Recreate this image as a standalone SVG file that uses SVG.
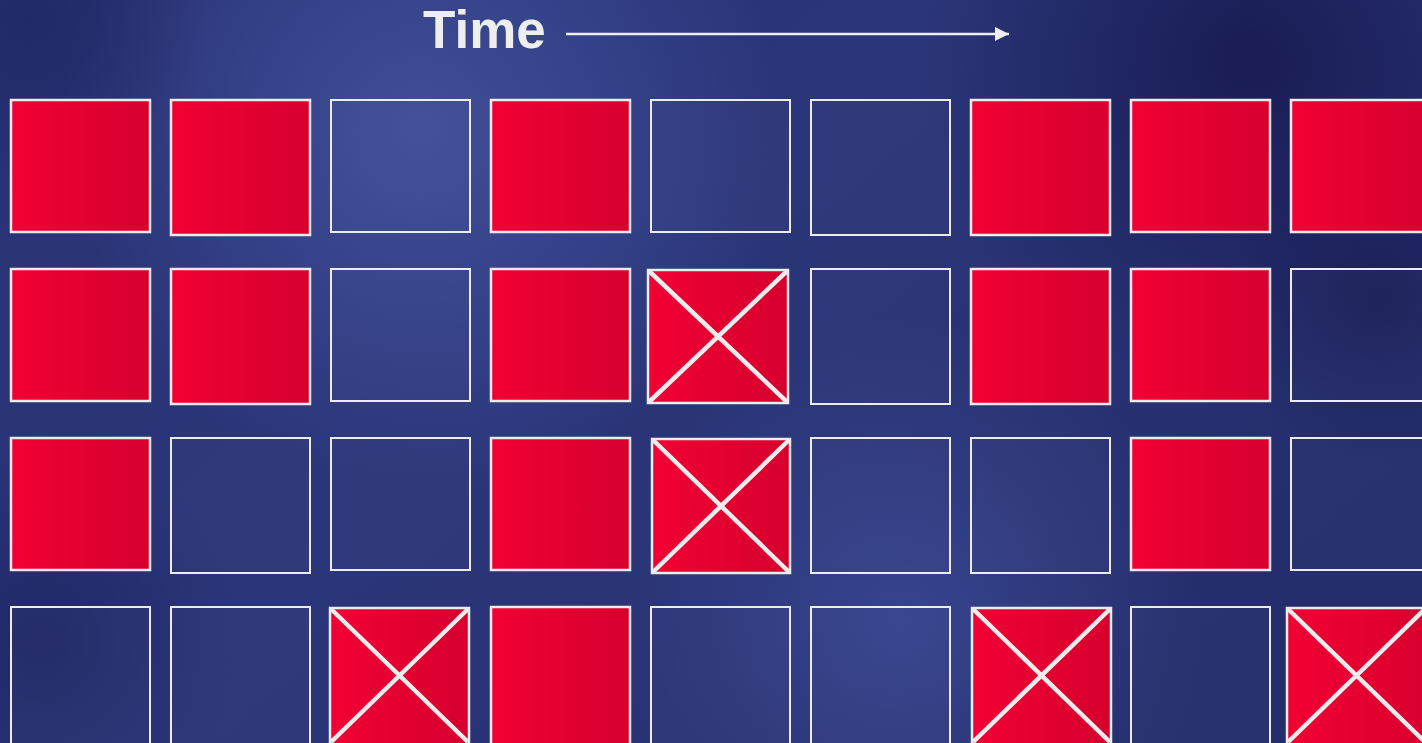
<svg xmlns="http://www.w3.org/2000/svg" width="1422" height="743" viewBox="0 0 1422 743">
<defs>
<linearGradient id="bg" x1="0" y1="0" x2="1" y2="0.6">
<stop offset="0" stop-color="#283274"/>
<stop offset="0.5" stop-color="#2b367a"/>
<stop offset="1" stop-color="#252d6c"/>
</linearGradient>
<radialGradient id="glow1" cx="420" cy="130" r="360" gradientUnits="userSpaceOnUse">
<stop offset="0" stop-color="#43529c" stop-opacity="0.9"/>
<stop offset="1" stop-color="#43529c" stop-opacity="0"/>
</radialGradient>
<radialGradient id="glow2" cx="900" cy="620" r="300" gradientUnits="userSpaceOnUse">
<stop offset="0" stop-color="#3b4a94" stop-opacity="0.8"/>
<stop offset="1" stop-color="#3b4a94" stop-opacity="0"/>
</radialGradient>
<radialGradient id="dark1" cx="1250" cy="60" r="330" gradientUnits="userSpaceOnUse">
<stop offset="0" stop-color="#181a50" stop-opacity="0.9"/>
<stop offset="1" stop-color="#181a50" stop-opacity="0"/>
</radialGradient>
<radialGradient id="dark2" cx="1380" cy="300" r="160" gradientUnits="userSpaceOnUse">
<stop offset="0" stop-color="#1a1d55" stop-opacity="0.8"/>
<stop offset="1" stop-color="#1a1d55" stop-opacity="0"/>
</radialGradient>
<radialGradient id="dark3" cx="40" cy="640" r="200" gradientUnits="userSpaceOnUse">
<stop offset="0" stop-color="#1e2260" stop-opacity="0.7"/>
<stop offset="1" stop-color="#1e2260" stop-opacity="0"/>
</radialGradient>
<radialGradient id="dark4" cx="30" cy="20" r="180" gradientUnits="userSpaceOnUse">
<stop offset="0" stop-color="#1e2260" stop-opacity="0.6"/>
<stop offset="1" stop-color="#1e2260" stop-opacity="0"/>
</radialGradient>
<linearGradient id="red" x1="0" y1="0" x2="1" y2="0">
<stop offset="0" stop-color="#f20034"/>
<stop offset="1" stop-color="#d6002e"/>
</linearGradient>
<marker id="ah" viewBox="0 0 10 10" refX="10" refY="5" markerWidth="14" markerHeight="15" markerUnits="userSpaceOnUse" orient="auto">
<path d="M0,0 L10,5 L0,10 Z" fill="#eeeeee"/>
</marker>
<style>
.r{fill:url(#red);stroke:#ececec;stroke-width:2.5}
.b{fill:#ffffff;fill-opacity:0.02;stroke:#ececec;stroke-width:2}
.x{stroke:#ececec;stroke-width:4.5;stroke-linecap:butt}
.t{font-family:"Liberation Sans",Arial,sans-serif;font-weight:bold;font-size:53px;fill:#eeeeee}
</style>
</defs>
<rect width="1422" height="743" fill="url(#bg)"/>
<rect width="1422" height="743" fill="url(#glow1)"/>
<rect width="1422" height="743" fill="url(#glow2)"/>
<rect width="1422" height="743" fill="url(#dark1)"/>
<rect width="1422" height="743" fill="url(#dark2)"/>
<rect width="1422" height="743" fill="url(#dark3)"/>
<rect width="1422" height="743" fill="url(#dark4)"/>

<g id="title">
<text class="t" x="423" y="48">Time</text>
</g>
<g id="connectors">
<line x1="566" y1="34" x2="1009" y2="34" stroke="#eeeeee" stroke-width="2.5" marker-end="url(#ah)"/>
</g>

<g id="row1">
<rect id="c1-1" class="r" x="11" y="100" width="139" height="132"/>
<rect id="c1-2" class="r" x="171" y="100" width="139" height="135"/>
<rect id="c1-3" class="b" x="331" y="100" width="139" height="132"/>
<rect id="c1-4" class="r" x="491" y="100" width="139" height="132"/>
<rect id="c1-5" class="b" x="651" y="100" width="139" height="132"/>
<rect id="c1-6" class="b" x="811" y="100" width="139" height="135"/>
<rect id="c1-7" class="r" x="971" y="100" width="139" height="135"/>
<rect id="c1-8" class="r" x="1131" y="100" width="139" height="132"/>
<rect id="c1-9" class="r" x="1291" y="100" width="139" height="132"/>
</g>

<g id="row2">
<rect id="c2-1" class="r" x="11" y="269" width="139" height="132"/>
<rect id="c2-2" class="r" x="171" y="269" width="139" height="135"/>
<rect id="c2-3" class="b" x="331" y="269" width="139" height="132"/>
<rect id="c2-4" class="r" x="491" y="269" width="139" height="132"/>
<g id="c2-5">
<rect class="r" x="648" y="270" width="140" height="133"/>
<line class="x" x1="649" y1="271" x2="787" y2="402"/>
<line class="x" x1="787" y1="271" x2="649" y2="402"/>
</g>
<rect id="c2-6" class="b" x="811" y="269" width="139" height="135"/>
<rect id="c2-7" class="r" x="971" y="269" width="139" height="135"/>
<rect id="c2-8" class="r" x="1131" y="269" width="139" height="132"/>
<rect id="c2-9" class="b" x="1291" y="269" width="139" height="132"/>
</g>

<g id="row3">
<rect id="c3-1" class="r" x="11" y="438" width="139" height="132"/>
<rect id="c3-2" class="b" x="171" y="438" width="139" height="135"/>
<rect id="c3-3" class="b" x="331" y="438" width="139" height="132"/>
<rect id="c3-4" class="r" x="491" y="438" width="139" height="132"/>
<g id="c3-5">
<rect class="r" x="652" y="439" width="138" height="134"/>
<line class="x" x1="653" y1="440" x2="789" y2="572"/>
<line class="x" x1="789" y1="440" x2="653" y2="572"/>
</g>
<rect id="c3-6" class="b" x="811" y="438" width="139" height="135"/>
<rect id="c3-7" class="b" x="971" y="438" width="139" height="135"/>
<rect id="c3-8" class="r" x="1131" y="438" width="139" height="132"/>
<rect id="c3-9" class="b" x="1291" y="438" width="139" height="132"/>
</g>

<g id="row4">
<rect id="c4-1" class="b" x="11" y="607" width="139" height="140"/>
<rect id="c4-2" class="b" x="171" y="607" width="139" height="140"/>
<g id="c4-3">
<rect class="r" x="330" y="608" width="139" height="140"/>
<line class="x" x1="331" y1="609" x2="468" y2="742"/>
<line class="x" x1="468" y1="609" x2="331" y2="742"/>
</g>
<rect id="c4-4" class="r" x="491" y="607" width="139" height="140"/>
<rect id="c4-5" class="b" x="651" y="607" width="139" height="140"/>
<rect id="c4-6" class="b" x="811" y="607" width="139" height="140"/>
<g id="c4-7">
<rect class="r" x="972" y="608" width="139" height="140"/>
<line class="x" x1="973" y1="609" x2="1110" y2="742"/>
<line class="x" x1="1110" y1="609" x2="973" y2="742"/>
</g>
<rect id="c4-8" class="b" x="1131" y="607" width="139" height="140"/>
<g id="c4-9">
<rect class="r" x="1287" y="608" width="150" height="140"/>
<line class="x" x1="1288" y1="609" x2="1425" y2="742"/>
<line class="x" x1="1425" y1="609" x2="1288" y2="742"/>
</g>
</g>
</svg>
